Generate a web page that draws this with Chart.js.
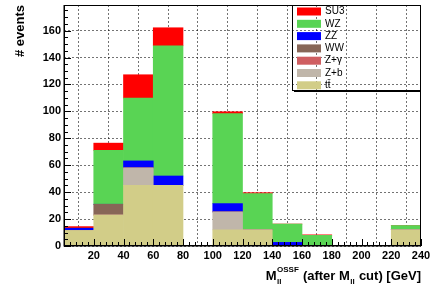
<!DOCTYPE html>
<html>
<head>
<meta charset="utf-8">
<script src="https://cdn.jsdelivr.net/npm/chart.js@4/dist/chart.umd.min.js"></script>
<style>
  html, body { margin: 0; padding: 0; background: #fff; }
  canvas { display: block; }
</style>
</head>
<body>
<canvas id="mllChart" width="431" height="289"></canvas>
<script>
// bin centres of the M_ll histogram (20 GeV bins, 0-240)
const binCenters = [10, 30, 50, 70, 90, 110, 130, 150, 170, 190, 210, 230];

// stacked contributions, bottom to top
const ttbar  = [11.5, 23, 45, 45, 0, 12, 12, 0, 0, 0, 0, 12];
const zPlusB = [0, 0, 13, 0, 0, 13.3, 0, 0, 0, 0, 0, 0];
const zGamma = [0, 0, 0, 0, 0, 0, 0, 0, 0, 0, 0, 0];
const wwBkg  = [0, 8, 0, 0, 0, 0, 0, 0, 0, 0, 0, 0];
const zzBkg  = [1.7, 0, 5.2, 7, 0, 6.2, 0, 2.7, 0, 0, 0, 0];
const wzBkg  = [0, 40, 46.7, 96.7, 0, 66.8, 27, 13.6, 7.9, 0, 0, 3.2];
const su3Sig = [1.2, 5.4, 17.3, 13.4, 0, 1.4, 0.6, 0, 0.4, 0, 0, 0];

const xTicks = [20, 40, 60, 80, 100, 120, 140, 160, 180, 200, 220, 240];
const yTicks = [0, 20, 40, 60, 80, 100, 120, 140, 160];
const xMin = 0, xMax = 240;
const yMin = 0, yMax = 179;

function series(label, values, color) {
    return {
        label: label,
        data: binCenters.map((c, i) => ({ x: c, y: values[i] })),
        backgroundColor: color,
        borderWidth: 0,
        barPercentage: 1.0,
        categoryPercentage: 1.0
    };
}

// frame, inner ticks, labels, titles and legend (ROOT look)
const rootStyle = {
    id: 'rootStyle',
    afterDatasetsDraw(chart) {
        const { ctx, chartArea: a, scales: { x, y } } = chart;
        ctx.save();

        // ticks pointing into the plot
        ctx.strokeStyle = '#000';
        ctx.lineWidth = 1;
        ctx.beginPath();
        for (let v = yMin; v <= yMax; v += 5) {
            const py = Math.round(y.getPixelForValue(v)) + 0.5;
            const len = v % 20 === 0 ? 7 : 4;
            ctx.moveTo(a.left, py);
            ctx.lineTo(a.left + len, py);
        }
        for (let v = xMin; v <= xMax; v += 4) {
            const px = Math.round(x.getPixelForValue(v)) + 0.5;
            const len = v % 20 === 0 ? 7 : 4;
            ctx.moveTo(px, a.bottom);
            ctx.lineTo(px, a.bottom - len);
        }
        ctx.stroke();

        // frame
        ctx.strokeRect(a.left + 0.5, a.top + 0.5, a.width - 1, a.height - 1);
        ctx.fillStyle = '#000';
        ctx.fillRect(a.left - 0.5, a.top, 1.5, a.height + 0.5);
        ctx.fillRect(a.left, a.bottom - 1, a.width, 1.5);

        // tick labels
        ctx.font = 'bold 11px "Liberation Sans", Arial, sans-serif';
        ctx.textAlign = 'right';
        ctx.textBaseline = 'middle';
        yTicks.forEach(v => ctx.fillText(String(v), a.left - 3, y.getPixelForValue(v)));
        ctx.textAlign = 'center';
        ctx.textBaseline = 'top';
        xTicks.forEach(v => ctx.fillText(String(v), x.getPixelForValue(v), a.bottom + 4));

        // y title
        ctx.save();
        ctx.translate(20, a.top);
        ctx.rotate(-Math.PI / 2);
        ctx.font = 'bold 13px "Liberation Sans", Arial, sans-serif';
        ctx.textAlign = 'right';
        ctx.textBaseline = 'middle';
        ctx.fillText('# events', 0, 0);
        ctx.restore();

        // x title with sub/superscripts
        const big = 'bold 13px "Liberation Sans", Arial, sans-serif';
        const small = 'bold 8px "Liberation Sans", Arial, sans-serif';
        const parts = [
            { text: 'M', font: big },
            { sub: 'll', sup: 'OSSF' },
            { text: ' (after M', font: big },
            { sub: 'll' },
            { text: ' cut) [GeV]', font: big }
        ];
        const widthOf = p => {
            if (p.text) { ctx.font = p.font; return ctx.measureText(p.text).width; }
            ctx.font = small;
            return Math.max(ctx.measureText(p.sub || '').width, ctx.measureText(p.sup || '').width) + 1;
        };
        const total = parts.reduce((s, p) => s + widthOf(p), 0);
        let cx = a.right - total;
        const base = 280;
        ctx.textAlign = 'left';
        ctx.textBaseline = 'alphabetic';
        parts.forEach(p => {
            const w = widthOf(p);
            if (p.text) {
                ctx.font = p.font;
                ctx.fillText(p.text, cx, base);
            } else {
                ctx.font = small;
                if (p.sub) ctx.fillText(p.sub, cx + 0.5, base + 4);
                if (p.sup) ctx.fillText(p.sup, cx + 0.5, base - 8);
            }
            cx += w;
        });

        // legend box (transparent, with shadow)
        const lx = 292, ly = 5, lw = 129, lh = 85;
        ctx.strokeStyle = '#000';
        ctx.lineWidth = 1;
        ctx.strokeRect(lx + 0.5, ly + 0.5, lw - 1, lh);
        ctx.fillStyle = '#000';
        ctx.fillRect(lx + 2, ly + lh + 0.5, lw - 2, 1.5);

        ctx.font = '10px "Liberation Sans", Arial, sans-serif';
        ctx.textBaseline = 'middle';
        const items = chart.data.datasets.slice().reverse();
        items.forEach((ds, i) => {
            const cy = 11.5 + i * 12.3;
            ctx.fillStyle = ds.backgroundColor;
            ctx.fillRect(297, cy - 4, 24, 8);
            ctx.fillStyle = '#000';
            ctx.fillText(ds.label, 325, cy);
        });

        ctx.restore();
    }
};

new Chart(document.getElementById('mllChart'), {
    type: 'bar',
    data: {
        datasets: [
            series('tt\u0304', ttbar, '#d2cd88'),
            series('Z+b', zPlusB, '#c0b6aa'),
            series('Z+\u03b3', zGamma, '#cf5e61'),
            series('WW', wwBkg, '#876657'),
            series('ZZ', zzBkg, '#0000ff'),
            series('WZ', wzBkg, '#59d454'),
            series('SU3', su3Sig, '#ff0000')
        ]
    },
    options: {
        responsive: false,
        animation: false,
        devicePixelRatio: 1,
        layout: { padding: { left: 64, right: 10, top: 5, bottom: 43 } },
        plugins: {
            legend: { display: false },
            tooltip: { enabled: false }
        },
        scales: {
            x: {
                type: 'linear',
                stacked: true,
                offset: false,
                min: xMin,
                max: xMax,
                ticks: { display: false, stepSize: 20, includeBounds: false },
                grid: { color: 'rgba(0, 0, 0, 0.55)', lineWidth: 1, drawTicks: false },
                border: { display: false, dash: [2, 2] }
            },
            y: {
                stacked: true,
                min: yMin,
                max: yMax,
                ticks: { display: false, stepSize: 20, includeBounds: false },
                grid: { color: 'rgba(0, 0, 0, 0.55)', lineWidth: 1, drawTicks: false },
                border: { display: false, dash: [2, 2] }
            }
        }
    },
    plugins: [rootStyle]
});
</script>
</body>
</html>
